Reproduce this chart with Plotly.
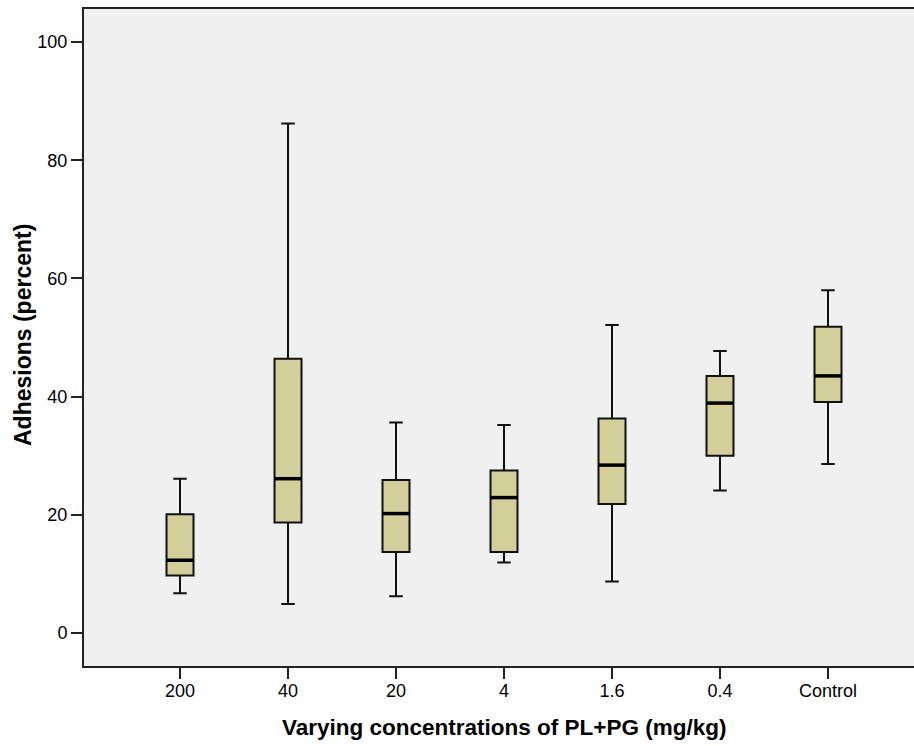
import plotly.graph_objects as go

categories = ["200", "40", "20", "4", "1.6", "0.4", "Control"]
lower_whisker = [6.7, 4.9, 6.2, 11.9, 8.7, 24.1, 28.6]
q1_values = [9.7, 18.7, 13.7, 13.7, 21.8, 30.0, 39.1]
median_values = [12.3, 26.1, 20.2, 22.9, 28.4, 38.9, 43.5]
q3_values = [20.1, 46.4, 25.9, 27.5, 36.3, 43.5, 51.8]
upper_whisker = [26.1, 86.2, 35.6, 35.2, 52.1, 47.7, 58.0]
y_ticks = [0, 20, 40, 60, 80, 100]

FONT = "Arial, 'Liberation Sans', sans-serif"
BOX_W = 0.25

fig = go.Figure()
fig.add_trace(go.Box(
    x=categories,
    q1=q1_values,
    median=median_values,
    q3=q3_values,
    lowerfence=lower_whisker,
    upperfence=upper_whisker,
    width=BOX_W,
    whiskerwidth=0.5,
    fillcolor="#D3CF9A",
    line=dict(color="#111111", width=2),
    boxpoints=False,
    showlegend=False,
))

# thicker median bars
for i, m in enumerate(median_values):
    fig.add_shape(type="line", xref="x", yref="y",
                  x0=i - BOX_W / 2, x1=i + BOX_W / 2, y0=m, y1=m,
                  line=dict(color="black", width=3.5))

# Figure is slightly wider than the 914px window; the plot's right edge is clipped as in the reference
fig.update_layout(
    width=934, height=746,
    margin=dict(l=84, r=10, t=7, b=80),
    paper_bgcolor="white",
    plot_bgcolor="#F0F0F0",
    font=dict(family=FONT, size=18, color="black"),
    showlegend=False,
)
fig.update_xaxes(
    type="category",
    categoryorder="array", categoryarray=categories,
    range=[-0.889, 6.889],
    showline=True, linecolor="#222222", linewidth=2, mirror=True,
    ticks="outside", ticklen=11, tickwidth=2, tickcolor="#222222",
    showgrid=False, zeroline=False,
    tickfont=dict(size=18),
    ticklabelstandoff=-4,
)
fig.update_yaxes(
    range=[-5.6, 105.6],
    tickvals=y_ticks,
    showline=True, linecolor="#222222", linewidth=2, mirror=False,
    ticks="outside", ticklen=11, tickwidth=2, tickcolor="#222222",
    showgrid=False, zeroline=False,
    tickfont=dict(size=18),
)
fig.add_annotation(
    text="<b>Adhesions (percent)</b>",
    xref="paper", yref="paper", x=0, y=(666 - 334) / 659,
    xshift=-61, xanchor="center", yanchor="middle", textangle=-90,
    showarrow=False, font=dict(size=23, family=FONT),
)
fig.add_annotation(
    text="<b>Varying concentrations of PL+PG (mg/kg)</b>",
    xref="paper", yref="paper", x=0.5, y=0,
    yshift=-61, xanchor="center", yanchor="middle",
    showarrow=False, font=dict(size=22.5, family=FONT),
)

fig.write_html(
    "out.html",
    config={"displayModeBar": False},
    post_script="document.body.style.margin='0';document.body.style.overflow='hidden';",
)
